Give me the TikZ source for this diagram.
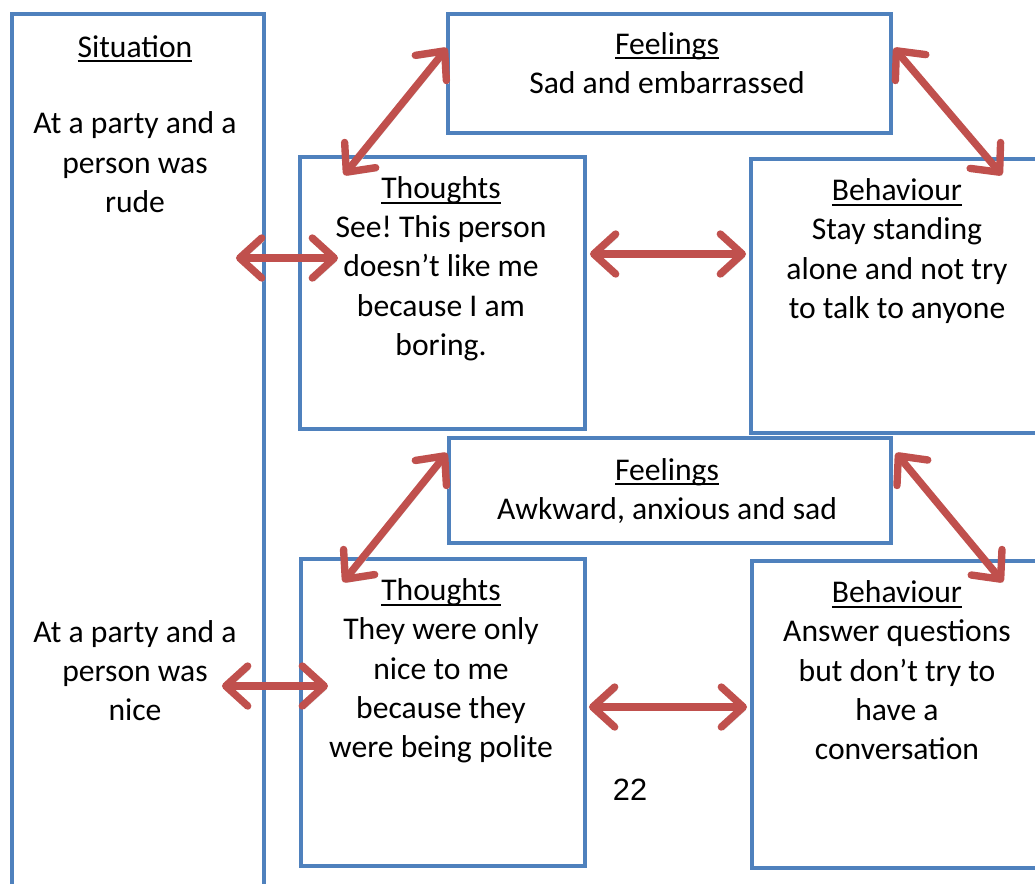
\documentclass[tikz,border=0pt]{standalone}
\usepackage{fontspec}
\setmainfont{Carlito}
\newfontfamily\pagefont{Liberation Sans}
\usetikzlibrary{arrows.meta,calc}
\definecolor{boxblue}{HTML}{4F81BD}
\definecolor{arrred}{HTML}{C0504D}
\newcommand{\hd}[1]{\setbox0\hbox{#1}\rlap{\rule[-2.9pt]{\wd0}{1.2pt}}\box0}
\frenchspacing
\begin{document}
\begin{tikzpicture}[x=0.02cm,y=-0.02cm,
  box/.style={draw=boxblue,line width=2.3pt,inner sep=0,anchor=north west},
  txt/.style={align=center,anchor=base,inner sep=0,font=\fontsize{18}{22.2}\selectfont},
  barb/.tip={Straight Barb[round,length=0.44cm,width=0.8cm]},
  dbl/.style={arrred,line width=4.2pt,line cap=round,barb-barb,
    preaction={draw=black!15,transform canvas={shift={(1.2pt,-1.8pt)}}}}]
\useasboundingbox (0,0) rectangle (1035,883);
\node[box,minimum width=5.04cm,minimum height=18cm] (sit) at (10,12) {};
\node[box,minimum width=8.86cm,minimum height=2.38cm] (feelA) at (446,12) {};
\node[box,minimum width=5.7cm,minimum height=5.44cm] (thoA) at (298,155) {};
\node[box,minimum width=6cm,minimum height=5.48cm] (behA) at (749,157) {};
\node[box,minimum width=8.84cm,minimum height=2.1cm] (feelB) at (447,436) {};
\node[box,minimum width=5.68cm,minimum height=6.14cm] (thoB) at (299,557) {};
\node[box,minimum width=6cm,minimum height=6.14cm] (behB) at (750,559) {};
% text nodes sit on the baseline of their last line
\node[txt] (sitTitle) at (135,57) {\hd{Situation}};
\node[txt] (sitAtxt) at (135,212) {At a party and a\\person was\\rude};
\node[txt] (sitBtxt) at (135,720) {At a party and a\\person was\\nice};
\node[txt] (feelAtxt) at (667,93) {\hd{Feelings}\\Sad and embarrassed};
\node[txt] (thoAtxt) at (441,355) {\hd{Thoughts}\\See! This person\\doesn’t like me\\because I am\\boring.};
\node[txt] (behAtxt) at (897,318) {\hd{Behaviour}\\Stay standing\\alone and not try\\to talk to anyone};
\node[txt] (feelBtxt) at (667,519) {\hd{Feelings}\\Awkward, anxious and sad};
\node[txt] (thoBtxt) at (441,757) {\hd{Thoughts}\\They were only\\nice to me\\because they\\were being polite};
\node[txt] (behBtxt) at (897,759) {\hd{Behaviour}\\Answer questions\\but don’t try to\\have a\\conversation};
\node[anchor=base,inner sep=0,font=\pagefont\fontsize{17.5}{20}\selectfont] (page) at (630,800) {22};
\draw[dbl] ([shift={(-30,246)}]sit.north east) -- ([shift={(40,103)}]thoA.north west);
\draw[dbl] ([shift={(1,36)}]feelA.north west) -- ([shift={(46,20)}]thoA.north west);
\draw[dbl] ([shift={(1,36)}]feelA.north east) -- ([shift={(253,18)}]behA.north west);
\draw[dbl] ([shift={(3,99)}]thoA.north east) -- ([shift={(-3,97)}]behA.north west);
\draw[dbl] ([shift={(0,17)}]feelB.north west) -- ([shift={(44,25)}]thoB.north west);
\draw[dbl] ([shift={(3,17)}]feelB.north east) -- ([shift={(253,23)}]behB.north west);
\draw[dbl] ([shift={(-44,674)}]sit.north east) -- ([shift={(29,129)}]thoB.north west);
\draw[dbl] ([shift={(2,150)}]thoB.north east) -- ([shift={(-3,148)}]behB.north west);
\end{tikzpicture}
\end{document}
